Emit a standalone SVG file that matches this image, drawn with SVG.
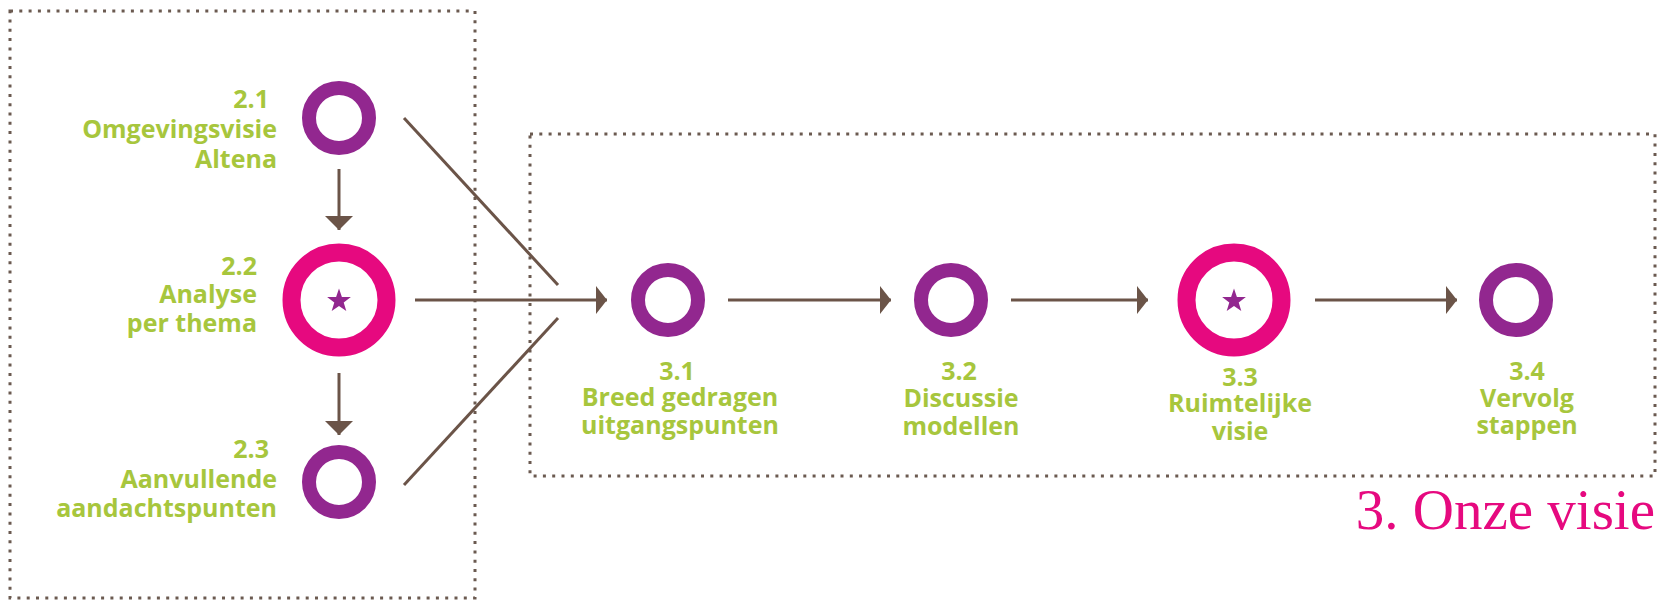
<svg xmlns="http://www.w3.org/2000/svg" width="1663" height="604" viewBox="0 0 1663 604">
<style>
.box{fill:none;stroke:#6b5a50;stroke-width:3;stroke-dasharray:3 6.3}
.con{fill:none;stroke:#6b5448;stroke-width:3}
.ring-s{fill:none;stroke:#92278f;stroke-width:14}
.ring-b{fill:none;stroke:#e6097f;stroke-width:18}
.star{fill:#92278f}
.lbl{font-family:"Open Sans","Liberation Sans",sans-serif;font-weight:700;font-size:25px;fill:#a7c63d}
.title{font-family:"Liberation Serif",serif;font-size:57px;fill:#e6097f}
</style>
<defs>
<marker id="ah" markerUnits="userSpaceOnUse" markerWidth="12" markerHeight="30" refX="11" refY="14" orient="auto">
<path d="M0,0 L11,14 L0,28 Z" fill="#6b5448"/>
</marker>
<marker id="av" markerUnits="userSpaceOnUse" markerWidth="15" markerHeight="30" refX="14" refY="14" orient="auto">
<path d="M0,0 L14,14 L0,28 Z" fill="#6b5448"/>
</marker>
<path id="star" d="M0,-12.5 L2.9,-4 L11.9,-3.9 L4.7,1.5 L7.3,10.1 L0,5 L-7.3,10.1 L-4.7,1.5 L-11.9,-3.9 L-2.9,-4 Z"/>
</defs>

<rect class="box" x="10" y="11" width="465" height="587"/>
<rect class="box" x="530" y="134" width="1125" height="342"/>

<g id="connectors">
<line class="con" x1="339" y1="169" x2="339" y2="230" marker-end="url(#av)"/>
<line class="con" x1="339" y1="373" x2="339" y2="435" marker-end="url(#av)"/>
<line class="con" x1="404" y1="118" x2="558" y2="285"/>
<line class="con" x1="404" y1="485" x2="558" y2="318"/>
<line class="con" x1="415" y1="300" x2="607" y2="300" marker-end="url(#ah)"/>
<line class="con" x1="728" y1="300" x2="891" y2="300" marker-end="url(#ah)"/>
<line class="con" x1="1011" y1="300" x2="1148" y2="300" marker-end="url(#ah)"/>
<line class="con" x1="1315" y1="300" x2="1457" y2="300" marker-end="url(#ah)"/>
</g>

<g id="n21">
<circle class="ring-s" cx="339" cy="118" r="30"/>
<text class="lbl" text-anchor="end"><tspan x="269" y="108">2.1</tspan><tspan x="277" y="138">Omgevingsvisie</tspan><tspan x="277" y="168">Altena</tspan></text>
</g>
<g id="n22">
<circle class="ring-b" cx="339" cy="300" r="47.5"/>
<use href="#star" class="star" x="339" y="301"/>
<text class="lbl" text-anchor="end"><tspan x="257" y="275">2.2</tspan><tspan x="257" y="303">Analyse</tspan><tspan x="257" y="332">per thema</tspan></text>
</g>
<g id="n23">
<circle class="ring-s" cx="339" cy="482" r="30"/>
<text class="lbl" text-anchor="end"><tspan x="269" y="458">2.3</tspan><tspan x="277" y="488">Aanvullende</tspan><tspan x="277" y="517">aandachtspunten</tspan></text>
</g>
<g id="n31">
<circle class="ring-s" cx="668" cy="300" r="30"/>
<text class="lbl" text-anchor="middle"><tspan x="677" y="380">3.1</tspan><tspan x="680" y="406">Breed gedragen</tspan><tspan x="680" y="434">uitgangspunten</tspan></text>
</g>
<g id="n32">
<circle class="ring-s" cx="951" cy="300" r="30"/>
<text class="lbl" text-anchor="middle"><tspan x="959" y="380">3.2</tspan><tspan x="961" y="407">Discussie</tspan><tspan x="961" y="435">modellen</tspan></text>
</g>
<g id="n33">
<circle class="ring-b" cx="1234" cy="300" r="47.5"/>
<use href="#star" class="star" x="1234" y="301"/>
<text class="lbl" text-anchor="middle"><tspan x="1240" y="386">3.3</tspan><tspan x="1240" y="412">Ruimtelijke</tspan><tspan x="1240" y="440">visie</tspan></text>
</g>
<g id="n34">
<circle class="ring-s" cx="1516" cy="300" r="30"/>
<text class="lbl" text-anchor="middle"><tspan x="1527" y="380">3.4</tspan><tspan x="1527" y="407">Vervolg</tspan><tspan x="1527" y="434">stappen</tspan></text>
</g>

<text class="title" x="1655" y="529" text-anchor="end">3. Onze visie</text>
</svg>
